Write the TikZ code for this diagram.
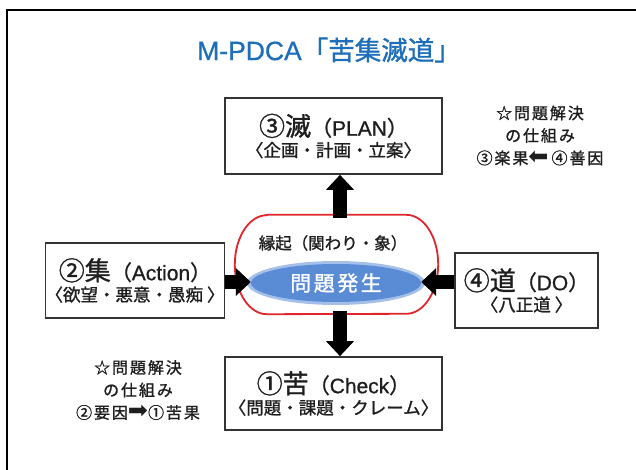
\documentclass[tikz,border=0pt]{standalone}
\usepackage{fontspec}
\setmainfont{Liberation Sans}
\newfontfamily\jp[FakeBold=1.2]{Noto Sans CJK JP}
\newfontfamily\jpsp[LetterSpace=12,FakeBold=1.2]{Noto Sans CJK JP}
\newfontfamily\lat[FakeBold=0.8]{Liberation Sans}
\newfontfamily\djv{DejaVu Sans}
\usetikzlibrary{arrows.meta,shapes.geometric}
\definecolor{titleblue}{HTML}{1E6EB9}
\definecolor{capred}{HTML}{E0262B}
\definecolor{ellblue}{HTML}{5A8CD6}
\definecolor{txt}{HTML}{1E1E1E}
\definecolor{boxline}{HTML}{333333}
\newcommand\fsz[1]{\fontsize{#1}{27}\selectfont}
\tikzset{
  box/.style={draw=boxline, line width=1.6pt, rectangle, align=center, text=txt, inner sep=0pt,
    font=\fontsize{17.5}{27}\selectfont},
  bigarrow/.style={line width=14pt, -{Triangle[length=15pt,width=27pt]}},
  note/.style={align=center, text=txt, inner sep=0pt, font=\fontsize{16}{22.5}\selectfont},
}
\begin{document}
\begin{tikzpicture}[x=1pt,y=-1pt]
\useasboundingbox (0,0) rectangle (636,470);
% frame
\draw[line width=2pt] (7,471) -- (7,10) -- (637,10);
% title
\node[text=titleblue, inner sep=0pt] (title) at (329,50) {\fsz{26.5}\lat M-PDCA\jp「苦集滅道」};
% boxes
\node[box, minimum width=217pt, minimum height=76pt] (plan) at (333.5,136)
  {{\fsz{26}\jp ③滅}{\fsz{21}\jp（\lat PLAN\jp）}\\[-6pt]{\fsz{17.5}\jp〈企画・計画・立案〉}};
\node[box, minimum width=217pt, minimum height=73pt] (check) at (333.5,393.5)
  {{\fsz{26}\jp ①苦}{\fsz{21}\jp（\lat Check\jp）}\\[-6pt]{\fsz{17.5}\jp〈問題・課題・クレーム〉}};
\node[box, minimum width=176pt, minimum height=75pt] (act) at (135,280.5)
  {{\fsz{26}\jp ②集}{\fsz{21}\jp（\lat Action\jp）}\\[-6pt]{\fsz{17.5}\jp〈欲望・悪意・愚痴 〉}};
\node[box, minimum width=143pt, minimum height=75pt] (do) at (526.5,290.5)
  {{\fsz{26}\jp ④道}{\fsz{21}\jp（\lat DO\jp）}\\[-6pt]{\fsz{17.5}\jp〈八正道 〉}};
% capsule
\node[minimum width=203pt, minimum height=99pt, inner sep=0pt] (cap) at (336.5,264.5) {};
\draw[capred, line width=1.8pt]
  ([xshift=32pt]cap.north west) -- ([xshift=-32pt]cap.north east)
  arc[start angle=90, end angle=-90, x radius=32pt, y radius=49.5pt]
  -- ([xshift=32pt]cap.south west)
  arc[start angle=270, end angle=90, x radius=32pt, y radius=49.5pt] -- cycle;
\node[text=txt, inner sep=0pt] (engi) at (333,243) {\fsz{16.5}\jp 縁起（関わり・象）};
\fill[ellblue!55] (336,283) ellipse[x radius=89pt, y radius=22pt];
\node[ellipse, fill=ellblue, minimum width=170pt, minimum height=38pt, inner sep=0pt, text=white] (ell) at (336,283)
  {\fontsize{21}{24}\selectfont\jpsp 問題発生};
% arrows
\coordinate (ax) at (340,0);
\coordinate (ay) at (0,282);
\draw[bigarrow] ([yshift=-3pt]cap.north -| ax) -- (plan.south -| ax);
\draw[bigarrow] ([yshift=3pt]cap.south -| ax) -- (check.north -| ax);
\draw[bigarrow] (act.east |- ay) -- (ell.west |- ay);
\draw[bigarrow] (do.west |- ay) -- (ell.east |- ay);
% notes
\node[note] (noteR) at (540,135.5) {\jpsp ☆問題解決\\\jpsp の仕組み\\\jpsp ③楽果{\djv\fontsize{24}{22}\selectfont ⬅}\hspace{3pt}④善因};
\node[note] (noteL) at (138,390) {\jpsp ☆問題解決\\\jpsp の仕組み\\\jpsp ②要因{\djv\fontsize{24}{22}\selectfont ➡}①苦果};
\end{tikzpicture}
\end{document}
